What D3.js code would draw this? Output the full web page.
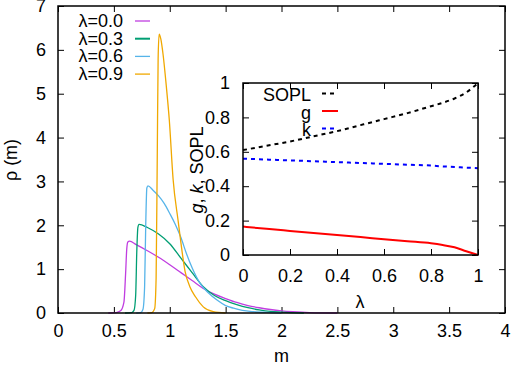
<!DOCTYPE html>
<html>
<head>
<meta charset="utf-8">
<script src="https://cdn.jsdelivr.net/npm/d3@7"></script>
<style>
  body { margin: 0; background: #fff; }
  svg text { font-family: "Liberation Sans", Arial, sans-serif; font-size: 18px; fill: #000; }
  .axis path { display: none; }
  .axis line { stroke: #000; stroke-width: 1; }
</style>
</head>
<body>
<div id="chart"></div>
<script>
// main plot: rho(m) for several lambda
const m00 = [0.45, 0.52, 0.56, 0.59, 0.605, 0.615, 0.625, 0.64, 0.7, 0.8, 0.9, 1.0, 1.1, 1.2, 1.3, 1.4, 1.5, 1.6, 1.7, 1.8, 1.9, 2.0, 2.1, 2.25, 2.5];
const rho00 = [0, 0.01, 0.05, 0.25, 0.9, 1.45, 1.62, 1.64, 1.56, 1.42, 1.27, 1.1, 0.92, 0.74, 0.56, 0.43, 0.33, 0.24, 0.17, 0.12, 0.08, 0.05, 0.03, 0.01, 0];
const m03 = [0.6, 0.66, 0.68, 0.695, 0.705, 0.715, 0.725, 0.8, 0.9, 1.0, 1.1, 1.2, 1.3, 1.4, 1.5, 1.6, 1.7, 1.8, 1.9, 2.0, 2.2];
const rho03 = [0, 0.01, 0.06, 0.4, 1.4, 1.95, 2.02, 1.95, 1.8, 1.58, 1.25, 0.92, 0.6, 0.4, 0.28, 0.19, 0.12, 0.07, 0.035, 0.02, 0];
const m06 = [0.7, 0.74, 0.76, 0.775, 0.785, 0.795, 0.805, 0.85, 0.9, 0.95, 1.0, 1.05, 1.1, 1.15, 1.2, 1.27, 1.35, 1.42, 1.5, 1.57, 1.65, 1.75, 1.9, 2.0];
const rho06 = [0, 0.01, 0.08, 0.6, 2.0, 2.85, 2.9, 2.8, 2.67, 2.5, 2.27, 2.02, 1.72, 1.35, 1.03, 0.68, 0.45, 0.3, 0.17, 0.11, 0.06, 0.03, 0.01, 0];
const m09 = [0.8, 0.84, 0.865, 0.878, 0.888, 0.896, 0.905, 0.92, 0.94, 0.97, 0.996, 1.03, 1.074, 1.1, 1.137, 1.18, 1.23, 1.3, 1.39, 1.5];
const rho09 = [0, 0.01, 0.1, 0.8, 3.5, 5.8, 6.36, 6.25, 5.9, 5.15, 4.4, 3.05, 2.12, 1.6, 0.95, 0.6, 0.37, 0.14, 0.03, 0];

const mainLabels = ["λ=0.0", "λ=0.3", "λ=0.6", "λ=0.9"];
const mainColors = ["#c03ee0", "#009e73", "#56b4e9", "#f0a800"];

// inset: g, k, SOPL vs lambda
const lam = [0, 0.1, 0.2, 0.3, 0.4, 0.5, 0.6, 0.7, 0.8, 0.85, 0.9, 0.95, 1.0];
const sopl = [0.61, 0.635, 0.66, 0.69, 0.72, 0.755, 0.79, 0.825, 0.865, 0.885, 0.91, 0.945, 1.0];
const gVal = [0.165, 0.152, 0.14, 0.128, 0.116, 0.104, 0.092, 0.08, 0.068, 0.058, 0.045, 0.022, 0];
const kVal = [0.56, 0.555, 0.55, 0.545, 0.54, 0.535, 0.53, 0.525, 0.52, 0.515, 0.512, 0.508, 0.505];

const W = 512, H = 365;
const main = { left: 58, right: 505, top: 6, bottom: 313 };
const ins = { left: 243, right: 478, top: 83, bottom: 255 };

const svg = d3.select("#chart").append("svg")
  .attr("width", W).attr("height", H);

const x = d3.scaleLinear().domain([0, 4]).range([main.left, main.right]);
const y = d3.scaleLinear().domain([0, 7]).range([main.bottom, main.top]);

// axes with inward ticks, mirrored on top/right
svg.append("g").attr("class", "axis")
  .attr("transform", `translate(0,${main.bottom})`)
  .call(d3.axisBottom(x).tickValues(d3.range(0, 4.01, 0.5)).tickFormat(d3.format("")).tickSize(-6).tickPadding(11));
svg.append("g").attr("class", "axis")
  .attr("transform", `translate(${main.left},0)`)
  .call(d3.axisLeft(y).ticks(7).tickSize(-6).tickPadding(12));
svg.append("g").attr("class", "axis")
  .attr("transform", `translate(0,${main.top})`)
  .call(d3.axisTop(x).tickValues(d3.range(0, 4.01, 0.5)).tickFormat("").tickSize(-6));
svg.append("g").attr("class", "axis")
  .attr("transform", `translate(${main.right},0)`)
  .call(d3.axisRight(y).ticks(7).tickFormat("").tickSize(-6));

const curves = [[m00, rho00], [m03, rho03], [m06, rho06], [m09, rho09]];
const line = d3.line().x(d => x(d[0])).y(d => y(d[1])).curve(d3.curveMonotoneX);

curves.forEach((c, i) => {
  const pts = c[0].map((v, j) => [v, c[1][j]]);
  svg.append("path")
    .attr("d", line(pts))
    .attr("fill", "none")
    .attr("stroke", mainColors[i])
    .attr("stroke-width", 1.3);
});

svg.append("rect")
  .attr("x", main.left).attr("y", main.top)
  .attr("width", main.right - main.left).attr("height", main.bottom - main.top)
  .attr("fill", "none").attr("stroke", "#000").attr("stroke-width", 1.5);

// main legend
mainLabels.forEach((t, i) => {
  const yy = 27 + i * 17.7;
  svg.append("text").attr("x", 123).attr("y", yy).attr("text-anchor", "end").text(t);
  svg.append("line")
    .attr("x1", 135).attr("x2", 150).attr("y1", yy - 6).attr("y2", yy - 6)
    .attr("stroke", mainColors[i]).attr("stroke-width", i === 1 ? 2 : 1.3);
});

svg.append("text")
  .attr("transform", `translate(17,160) rotate(-90)`)
  .attr("text-anchor", "middle")
  .text("ρ (m)");
svg.append("text")
  .attr("x", (main.left + main.right) / 2).attr("y", 362)
  .attr("text-anchor", "middle")
  .text("m");

// inset
const xi = d3.scaleLinear().domain([0, 1]).range([ins.left, ins.right]);
const yi = d3.scaleLinear().domain([0, 1]).range([ins.bottom, ins.top]);

svg.append("rect")
  .attr("x", ins.left).attr("y", ins.top)
  .attr("width", ins.right - ins.left).attr("height", ins.bottom - ins.top)
  .attr("fill", "#fff");

svg.append("g").attr("class", "axis")
  .attr("transform", `translate(0,${ins.bottom})`)
  .call(d3.axisBottom(xi).ticks(5).tickFormat(d3.format("")).tickSize(-6).tickPadding(14));
svg.append("g").attr("class", "axis")
  .attr("transform", `translate(${ins.left},0)`)
  .call(d3.axisLeft(yi).ticks(5).tickFormat(d3.format("")).tickSize(-6).tickPadding(13));
svg.append("g").attr("class", "axis")
  .attr("transform", `translate(0,${ins.top})`)
  .call(d3.axisTop(xi).ticks(5).tickFormat("").tickSize(-6));
svg.append("g").attr("class", "axis")
  .attr("transform", `translate(${ins.right},0)`)
  .call(d3.axisRight(yi).ticks(5).tickFormat("").tickSize(-6));

const lineI = d3.line().x(d => xi(d[0])).y(d => yi(d[1])).curve(d3.curveMonotoneX);
const insetSeries = [
  { name: "SOPL", vals: sopl, color: "#000", dash: "4,4" },
  { name: "g", vals: gVal, color: "#ff0000", dash: null },
  { name: "k", vals: kVal, color: "#0000ff", dash: "4,4" }
];

insetSeries.forEach((s, i) => {
  svg.append("path")
    .attr("d", lineI(lam.map((v, j) => [v, s.vals[j]])))
    .attr("fill", "none")
    .attr("stroke", s.color)
    .attr("stroke-width", 2)
    .attr("stroke-dasharray", s.dash);
  const yy = 101 + i * 17.5;
  svg.append("text").attr("x", 311).attr("y", yy).attr("text-anchor", "end").text(s.name);
  svg.append("line")
    .attr("x1", 322).attr("x2", 338).attr("y1", yy - 7.5).attr("y2", yy - 7.5)
    .attr("stroke", s.color).attr("stroke-width", 2)
    .attr("stroke-dasharray", s.dash);
});

svg.append("rect")
  .attr("x", ins.left).attr("y", ins.top)
  .attr("width", ins.right - ins.left).attr("height", ins.bottom - ins.top)
  .attr("fill", "none").attr("stroke", "#000").attr("stroke-width", 1.5);

const yl = svg.append("text")
  .attr("transform", `translate(203,170) rotate(-90)`)
  .attr("text-anchor", "middle");
yl.append("tspan").style("font-style", "italic").text("g");
yl.append("tspan").text(", ");
yl.append("tspan").style("font-style", "italic").text("k");
yl.append("tspan").text(", SOPL");

svg.append("text")
  .attr("x", 360).attr("y", 308)
  .attr("text-anchor", "middle")
  .text("λ");
</script>
</body>
</html>
